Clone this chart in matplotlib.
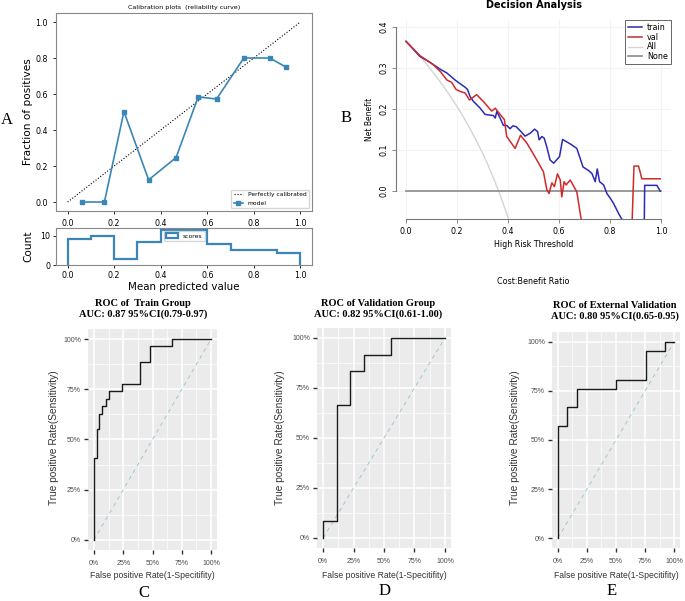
import matplotlib
matplotlib.use("Agg")
import matplotlib.pyplot as plt
import numpy as np
from matplotlib.ticker import PercentFormatter, MultipleLocator

W, H = 685, 601

# ---- A: calibration ----
cal_pred = [0.063, 0.158, 0.242, 0.348, 0.466, 0.561, 0.640, 0.757, 0.868, 0.938]
cal_frac = [0.0, 0.0, 0.502, 0.123, 0.247, 0.584, 0.572, 0.80, 0.80, 0.75]
hist_edges = [0.0, 0.1, 0.2, 0.3, 0.4, 0.5, 0.6, 0.7, 0.8, 0.9, 1.0]
hist_counts = [9, 10, 2, 8, 12, 12, 7, 5, 5, 4]

# ---- B: decision curve ----
train_x = [0.0, 0.055, 0.094, 0.134, 0.16, 0.192, 0.196, 0.232, 0.241, 0.251, 0.264,
           0.291, 0.31, 0.343, 0.35, 0.356, 0.369, 0.382, 0.395, 0.408, 0.419, 0.432,
           0.448, 0.467, 0.487, 0.504, 0.516, 0.522, 0.533, 0.542, 0.552, 0.565, 0.579,
           0.592, 0.602, 0.614, 0.644, 0.670, 0.694, 0.716, 0.729, 0.742, 0.750, 0.759,
           0.775, 0.788, 0.804, 0.814, 0.834, 0.847, 0.86, 0.934, 0.936, 0.984, 0.997]
train_y = [0.365, 0.328, 0.314, 0.297, 0.288, 0.271, 0.269, 0.253, 0.248, 0.231, 0.219,
           0.202, 0.187, 0.184, 0.178, 0.194, 0.178, 0.160, 0.160, 0.152, 0.159, 0.157,
           0.147, 0.134, 0.141, 0.151, 0.145, 0.125, 0.133, 0.129, 0.108, 0.076, 0.068,
           0.077, 0.084, 0.126, 0.115, 0.104, 0.059, 0.050, 0.043, 0.023, 0.054, 0.023,
           0.015, -0.006, -0.020, -0.030, -0.055, -0.069, -0.10, -0.10, 0.014, 0.014, 0.0]
val_x = [0.0, 0.055, 0.107, 0.134, 0.16, 0.179, 0.196, 0.212, 0.232, 0.249, 0.277,
         0.304, 0.336, 0.35, 0.369, 0.386, 0.395, 0.428, 0.449, 0.474, 0.513, 0.539,
         0.552, 0.561, 0.572, 0.582, 0.594, 0.605, 0.611, 0.620, 0.628, 0.644, 0.670,
         0.687, 0.70, 0.884, 0.887, 0.894, 0.912, 0.925, 0.997]
val_y = [0.365, 0.330, 0.308, 0.292, 0.271, 0.265, 0.248, 0.243, 0.239, 0.222, 0.235,
         0.218, 0.195, 0.202, 0.187, 0.174, 0.133, 0.104, 0.136, 0.117, 0.076, 0.047,
         0.004, -0.006, 0.020, 0.011, 0.042, 0.027, -0.014, 0.023, 0.015, 0.027, -0.002,
         -0.069, -0.10, -0.10, -0.069, 0.061, 0.061, 0.030, 0.030]
all_x = [0.0, 0.025, 0.05, 0.075, 0.1, 0.125, 0.15, 0.175, 0.2, 0.225, 0.25, 0.275,
         0.3, 0.325, 0.35, 0.375, 0.4, 0.41]
all_y = [0.365, 0.349, 0.332, 0.314, 0.294, 0.274, 0.253, 0.230, 0.206, 0.181, 0.153,
         0.124, 0.093, 0.059, 0.021, -0.019, -0.064, -0.080]

# ---- C/D/E: ROC ----
roc_titles = ["ROC of  Train Group\nAUC: 0.87 95%CI(0.79-0.97)",
              "ROC of Validation Group\nAUC: 0.82 95%CI(0.61-1.00)",
              "ROC of External Validation\nAUC: 0.80 95%CI(0.65-0.95)"]
fpr_train = [0, 0, 0.026, 0.040, 0.069, 0.106, 0.126, 0.240, 0.391, 0.477, 0.669, 1.0]
tpr_train = [0, 0.408, 0.553, 0.628, 0.665, 0.702, 0.740, 0.778, 0.888, 0.965, 1.0, 1.0]
fpr_val = [0, 0, 0.111, 0.222, 0.333, 0.556, 1.0]
tpr_val = [0, 0.083, 0.667, 0.833, 0.917, 1.0, 1.0]
fpr_ext = [0, 0, 0.078, 0.162, 0.503, 0.754, 0.922, 1.0]
tpr_ext = [0, 0.570, 0.667, 0.762, 0.807, 0.952, 1.0, 1.0]


def box(l, t, r, b):
    return [l / W, 1 - b / H, (r - l) / W, (b - t) / H]


def px(x, y):
    return x / W, 1 - y / H


fig = plt.figure(figsize=(W / 100, H / 100), dpi=100)

# A main
ax1 = fig.add_axes(box(56, 13, 312, 211))
cal_blue = "#3a86b8"
ax1.plot([0, 1], [0, 1], "k:", lw=0.8, label="Perfectly calibrated")
ax1.plot(cal_pred, cal_frac, "s-", color=cal_blue, lw=1.2, ms=3, label="model")
ax1.set_xlim(-0.05, 1.05)
ax1.set_ylim(-0.05, 1.05)
ax1.set_title("Calibration plots  (reliability curve)", fontsize=4.6, pad=3)
ax1.set_ylabel("Fraction of positives", fontsize=7.6)
ax1.yaxis.set_label_coords(-23 / 256, 0.5)
ax1.tick_params(labelsize=5.7, length=2.5, width=0.6)
for s in ax1.spines.values():
    s.set_color("#888888")
ax1.legend(loc="lower right", fontsize=4.3, handlelength=1.6)

# A histogram
ax2 = fig.add_axes(box(56, 228, 312, 265))
ax2.hist([(a + b) / 2 for a, b in zip(hist_edges[:-1], hist_edges[1:])], bins=hist_edges,
         weights=hist_counts, histtype="step", lw=1.6, color=cal_blue, label="scores")
ax2.set_xlim(-0.05, 1.05)
ax2.set_yticks([0, 10])
ax2.set_ylabel("Count", fontsize=7.6)
ax2.yaxis.set_label_coords(-23 / 256, 0.5)
ax2.set_xlabel("Mean predicted value", fontsize=7.4)
ax2.xaxis.set_label_coords(0.5, -17 / 37)
ax2.tick_params(labelsize=5.7, length=2.5, width=0.6, pad=1.5)
for s in ax2.spines.values():
    s.set_color("#888888")
ax2.legend(loc="upper center", fontsize=4.3)

# B decision curve
l, r = 395.8, 671.2
axb = fig.add_axes(box(l, 19.6, r, 219))
axb.set_xlim(-0.04, 1.04)
axb.set_ylim(-0.068, 0.418)
axb.grid(True, color="#f3f3f3", lw=0.8)
axb.set_axisbelow(True)
axb.plot(all_x, all_y, color="#d4d4d4", lw=1.0, label="All")
axb.axhline(0, xmin=0.04 / 1.08, xmax=1.04 / 1.08, color="#8a8a8a", lw=1.2, label="None")
axb.plot(train_x, train_y, color="#2b2bb8", lw=1.1, label="train")
axb.plot(val_x, val_y, color="#d02a2a", lw=1.1, label="val")
for side in ["top", "right"]:
    axb.spines[side].set_visible(False)
axb.spines["left"].set_bounds(0, 0.4)
axb.spines["bottom"].set_bounds(0, 1)
for side in ["left", "bottom"]:
    axb.spines[side].set_color("#777777")
    axb.spines[side].set_linewidth(0.8)
axb.set_xticks([0, 0.2, 0.4, 0.6, 0.8, 1.0])
axb.set_yticks([0, 0.1, 0.2, 0.3, 0.4])
axb.tick_params(labelsize=5.7, length=3, width=0.6, color="#777777", pad=2.5)
for t in axb.get_yticklabels():
    t.set_rotation(90)
    t.set_va("center")
axb.set_title("Decision Analysis", fontsize=7, fontweight="bold", pad=8)
axb.set_xlabel("High Risk Threshold", fontsize=5.8, labelpad=3)
axb.set_ylabel("Net Benefit", fontsize=5.5, labelpad=4)
h, lab = axb.get_legend_handles_labels()
order = [lab.index(k) for k in ["train", "val", "All", "None"]]
leg = axb.legend([h[i] for i in order], [lab[i] for i in order], loc="upper right",
                 bbox_to_anchor=(1, 1), borderaxespad=0, fontsize=5.8, fancybox=False,
                 handlelength=1.8, handletextpad=0.6, labelspacing=0.1, borderpad=0.4,
                 framealpha=1)
leg.get_frame().set_edgecolor("#666666")
leg.get_frame().set_linewidth(0.7)
fig.text(*px(533, 281), "Cost:Benefit Ratio", fontsize=5.8, ha="center", va="center")

# ROC panels
roc_boxes = [(88, 329, 217, 550), (317, 328, 451, 548), (552, 332, 680, 548)]
roc_fpr = [fpr_train, fpr_val, fpr_ext]
roc_tpr = [tpr_train, tpr_val, tpr_ext]
title_pos = [(143, 309), (378, 309), (615, 311)]
ylab_x = [54, 280, 515]
letters = ["C", "D", "E"]
letter_pos = [(144, 593), (385, 591), (612, 591)]
for i in range(3):
    ax = fig.add_axes(box(*roc_boxes[i]))
    ax.set_facecolor("#ebebeb")
    ax.plot([0, 1], [0, 1], color="#9cc8d4", lw=0.7, ls=(0, (4, 4)))
    ax.plot(roc_fpr[i], roc_tpr[i], drawstyle="steps-post", color="#1a1a1a", lw=1.0)
    ax.set_xlim(-0.05, 1.05)
    ax.set_ylim(-0.05, 1.05)
    ax.xaxis.set_major_locator(MultipleLocator(0.25))
    ax.yaxis.set_major_locator(MultipleLocator(0.25))
    ax.xaxis.set_minor_locator(MultipleLocator(0.125))
    ax.yaxis.set_minor_locator(MultipleLocator(0.125))
    ax.xaxis.set_major_formatter(PercentFormatter(1.0, decimals=0))
    ax.yaxis.set_major_formatter(PercentFormatter(1.0, decimals=0))
    ax.grid(True, which="major", color="white", lw=1.1)
    ax.grid(True, which="minor", color="white", lw=0.5)
    ax.set_axisbelow(True)
    for s in ax.spines.values():
        s.set_visible(False)
    ax.tick_params(which="major", labelsize=5, length=3, width=1.0, color="#333333",
                   labelcolor="#4d4d4d", pad=2)
    ax.tick_params(axis="x", which="major", pad=4.5)
    ax.tick_params(which="minor", length=0)
    for t in ax.get_xticklabels() + ax.get_yticklabels():
        t.set_family("Liberation Sans")
    # x label centre at fixed pixel row
    bl, bt, br, bb = roc_boxes[i]
    ax.set_xlabel("False positive Rate(1-Specitifity)", fontsize=6.2, family="Liberation Sans",
                  color="#333333")
    ax.xaxis.set_label_coords(0.5, -(576 - bb) / (bb - bt))
    ax.xaxis.label.set_va("center")
    fig.text(*px(ylab_x[i], 438), "True positive Rate(Sensitivity)", fontsize=7.3,
             family="Liberation Sans", color="#333333", rotation=90, ha="center", va="center")
    fig.text(*px(*title_pos[i]), roc_titles[i], fontsize=7.5, family="Liberation Serif",
             fontweight="bold", ha="center", va="center", linespacing=1.2)
    fig.text(*px(*letter_pos[i]), letters[i], fontsize=12, family="Liberation Serif",
             ha="center", va="center")

fig.text(*px(7, 120), "A", fontsize=12, family="Liberation Serif", ha="center", va="center")
fig.text(*px(346, 118), "B", fontsize=12, family="Liberation Serif", ha="center", va="center")

fig.savefig("out.png", dpi=100)
